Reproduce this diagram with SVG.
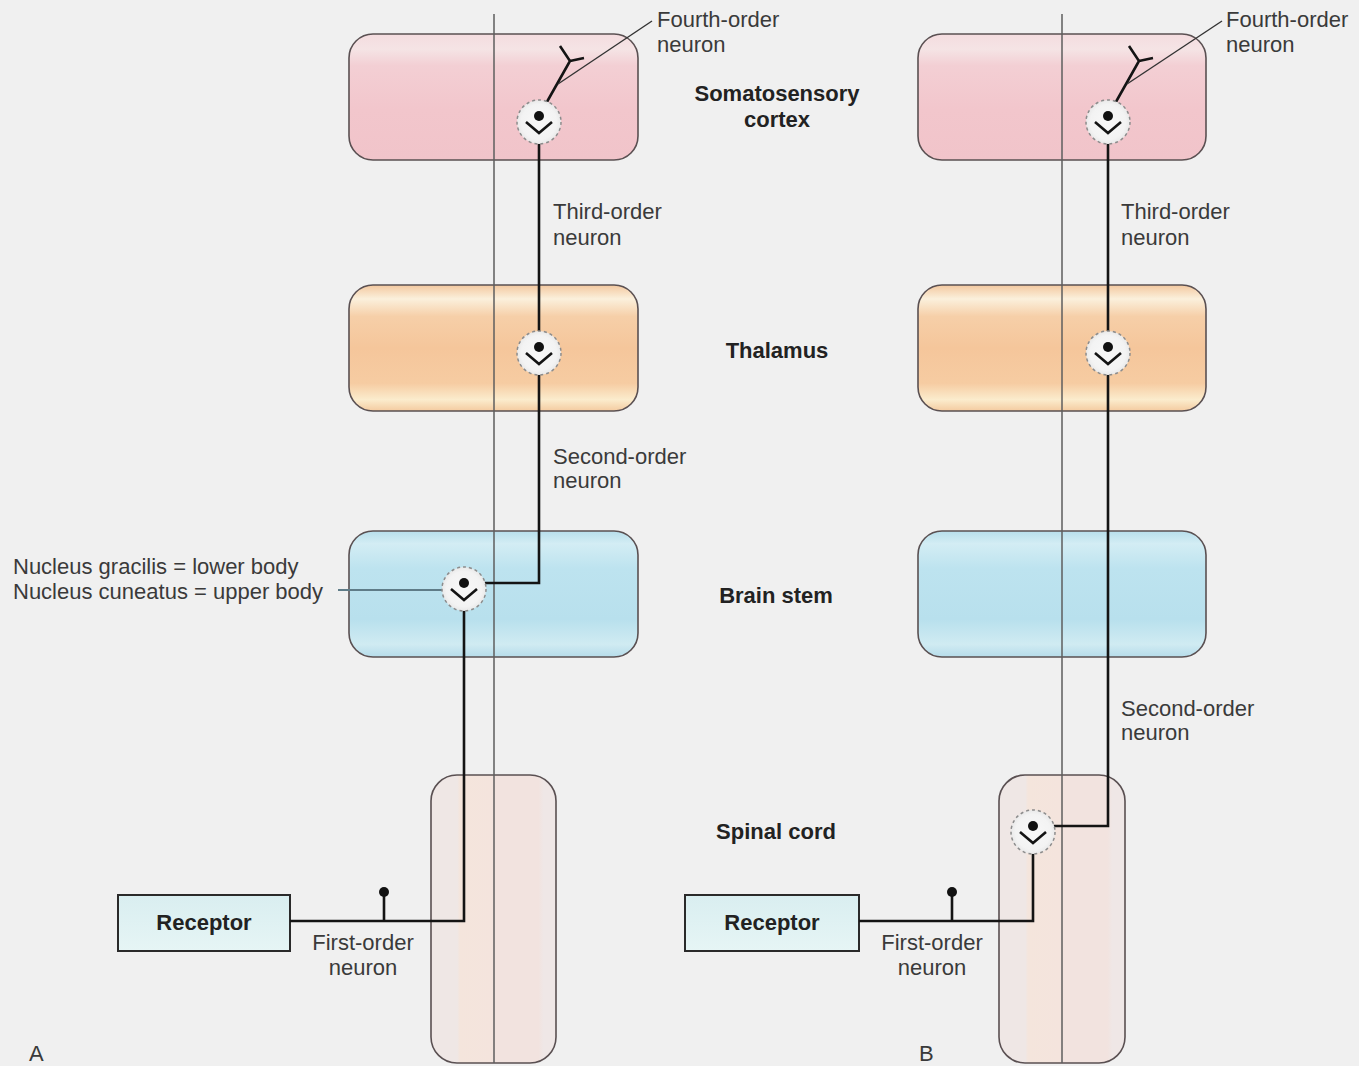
<svg xmlns="http://www.w3.org/2000/svg" width="1359" height="1066" viewBox="0 0 1359 1066">
<style>
.txt{font-family:"Liberation Sans",Arial,sans-serif;font-size:22px;fill:#3a3a3a}
.bold{font-weight:bold;fill:#222}
.mid{text-anchor:middle}
.box{stroke:#5a5052;stroke-width:1.6}
.neuron{fill:none;stroke:#141414;stroke-width:2.6;stroke-linejoin:miter}
.lead{fill:none;stroke:#333;stroke-width:1.4}
.midline{stroke:#5e5e5e;stroke-width:1.5}
</style>
<defs>
<linearGradient id="gPink" x1="0" y1="0" x2="0" y2="1">
<stop offset="0" stop-color="#f4dcdf"/><stop offset="0.12" stop-color="#f5e4e5"/><stop offset="0.25" stop-color="#f3cfd4"/><stop offset="0.6" stop-color="#f2c6cc"/><stop offset="1" stop-color="#f1c4ca"/>
</linearGradient>
<linearGradient id="gOrange" x1="0" y1="0" x2="0" y2="1">
<stop offset="0" stop-color="#f3c89f"/><stop offset="0.11" stop-color="#fbf0dc"/><stop offset="0.25" stop-color="#f6cfa8"/><stop offset="0.5" stop-color="#f5c69b"/><stop offset="0.78" stop-color="#f6cca2"/><stop offset="0.91" stop-color="#fbeccd"/><stop offset="1" stop-color="#f4cba0"/>
</linearGradient>
<linearGradient id="gBlue" x1="0" y1="0" x2="0" y2="1">
<stop offset="0" stop-color="#b7deeb"/><stop offset="0.1" stop-color="#d3edf4"/><stop offset="0.3" stop-color="#bde3ef"/><stop offset="0.7" stop-color="#b8e0ed"/><stop offset="0.9" stop-color="#d0ebf2"/><stop offset="1" stop-color="#b6dcea"/>
</linearGradient>
<linearGradient id="gCord" x1="0" y1="0" x2="1" y2="0">
<stop offset="0" stop-color="#efe7e5"/><stop offset="0.21" stop-color="#efe7e5"/><stop offset="0.23" stop-color="#f4e5dc"/><stop offset="0.48" stop-color="#f4e4dd"/><stop offset="0.52" stop-color="#f2e3df"/><stop offset="0.86" stop-color="#f2e3df"/><stop offset="0.9" stop-color="#efe7e6"/><stop offset="1" stop-color="#efe7e6"/>
</linearGradient>
<linearGradient id="gRec" x1="0" y1="0" x2="0" y2="1">
<stop offset="0" stop-color="#d9eef0"/><stop offset="1" stop-color="#e6f5f5"/>
</linearGradient>
<radialGradient id="gSyn">
<stop offset="0" stop-color="#f8f8f8"/><stop offset="0.8" stop-color="#f3f3f3"/><stop offset="1" stop-color="#e9e9e9"/>
</radialGradient>
<g id="synapse">
<circle cx="0" cy="6" r="22" fill="url(#gSyn)" stroke="#8c8c8c" stroke-width="1.5" stroke-dasharray="3 3"/>
<polyline points="-13,6 0,17 13,6" fill="none" stroke="#141414" stroke-width="2.6"/>
<circle cx="0" cy="0" r="5" fill="#111"/>
</g>
</defs>
<rect width="1359" height="1066" fill="#f0f0f0"/>

<g id="panelA-boxes">
<g id="cortexA"><rect class="box" x="349" y="34" width="289" height="126" rx="24" fill="url(#gPink)"/></g>
<g id="thalamusA"><rect class="box" x="349" y="285" width="289" height="126" rx="24" fill="url(#gOrange)"/></g>
<g id="brainstemA"><rect class="box" x="349" y="531" width="289" height="126" rx="24" fill="url(#gBlue)" stroke="#4f6670"/></g>
<g id="spinalA"><rect class="box" x="431" y="775" width="125" height="288" rx="26" fill="url(#gCord)"/></g>
<g id="receptorA"><rect x="118" y="895" width="172" height="56" fill="url(#gRec)" stroke="#2a2a2a" stroke-width="2"/><text class="txt bold mid" x="204" y="930">Receptor</text></g>
</g>

<g id="panelB-boxes">
<g id="cortexB"><rect class="box" x="918" y="34" width="288" height="126" rx="24" fill="url(#gPink)"/></g>
<g id="thalamusB"><rect class="box" x="918" y="285" width="288" height="126" rx="24" fill="url(#gOrange)"/></g>
<g id="brainstemB"><rect class="box" x="918" y="531" width="288" height="126" rx="24" fill="url(#gBlue)" stroke="#4f6670"/></g>
<g id="spinalB"><rect class="box" x="999" y="775" width="126" height="288" rx="26" fill="url(#gCord)"/></g>
<g id="receptorB"><rect x="685" y="895" width="174" height="56" fill="url(#gRec)" stroke="#2a2a2a" stroke-width="2"/><text class="txt bold mid" x="772" y="930">Receptor</text></g>
</g>

<g id="midlines">
<line class="midline" x1="494" y1="14" x2="494" y2="1063"/>
<line class="midline" x1="1062" y1="14" x2="1062" y2="1063"/>
</g>

<g id="connectors">
<!-- Panel A -->
<path class="neuron" d="M539,116 L570,61 L560,46 M570,61 L584,58"/>
<path class="neuron" d="M539,347 L539,133"/>
<path class="neuron" d="M539,364 L539,583 L464,583"/>
<path class="neuron" d="M464,600 L464,921 L290,921 M384,921 L384,893"/>
<circle cx="384" cy="892" r="5" fill="#111"/>
<path class="lead" d="M652,21 L558,84"/>
<path d="M338,590 L443,590" fill="none" stroke="#5f7c88" stroke-width="2"/>
<!-- Panel B -->
<path class="neuron" d="M1108,116 L1139,61 L1129,46 M1139,61 L1153,58"/>
<path class="neuron" d="M1108,347 L1108,133"/>
<path class="neuron" d="M1108,364 L1108,826 L1033,826"/>
<path class="neuron" d="M1033,843 L1033,921 L859,921 M952,921 L952,893"/>
<circle cx="952" cy="892" r="5" fill="#111"/>
<path class="lead" d="M1222,21 L1127,84"/>
</g>

<g id="synapses">
<use href="#synapse" x="539" y="116"/>
<use href="#synapse" x="539" y="347"/>
<use href="#synapse" x="464" y="583"/>
<use href="#synapse" x="1108" y="116"/>
<use href="#synapse" x="1108" y="347"/>
<use href="#synapse" x="1033" y="826"/>
</g>

<g id="labels">
<text class="txt" x="657" y="27">Fourth-order</text>
<text class="txt" x="657" y="52">neuron</text>
<text class="txt" x="1226" y="27">Fourth-order</text>
<text class="txt" x="1226" y="52">neuron</text>
<text class="txt bold mid" x="777" y="101">Somatosensory</text>
<text class="txt bold mid" x="777" y="127">cortex</text>
<text class="txt" x="553" y="219">Third-order</text>
<text class="txt" x="553" y="245">neuron</text>
<text class="txt" x="1121" y="219">Third-order</text>
<text class="txt" x="1121" y="245">neuron</text>
<text class="txt bold mid" x="777" y="358">Thalamus</text>
<text class="txt" x="553" y="464">Second-order</text>
<text class="txt" x="553" y="488">neuron</text>
<text class="txt" x="13" y="574">Nucleus gracilis = lower body</text>
<text class="txt" x="13" y="599">Nucleus cuneatus = upper body</text>
<text class="txt bold mid" x="776" y="603">Brain stem</text>
<text class="txt" x="1121" y="716">Second-order</text>
<text class="txt" x="1121" y="740">neuron</text>
<text class="txt bold mid" x="776" y="839">Spinal cord</text>
<text class="txt mid" x="363" y="950">First-order</text>
<text class="txt mid" x="363" y="975">neuron</text>
<text class="txt mid" x="932" y="950">First-order</text>
<text class="txt mid" x="932" y="975">neuron</text>
<text class="txt" x="29" y="1061" style="font-size:22px">A</text>
<text class="txt" x="919" y="1061" style="font-size:22px">B</text>
</g>
</svg>
